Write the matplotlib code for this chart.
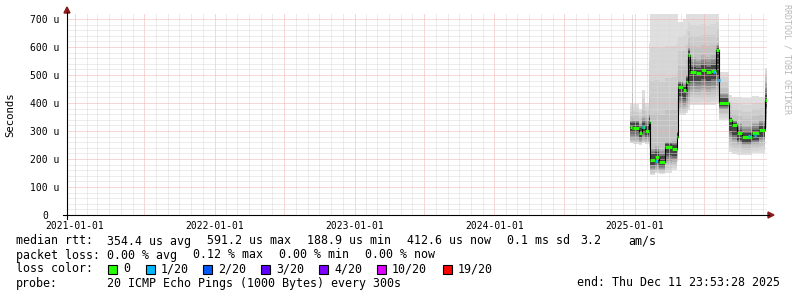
import numpy as np
import pandas as pd
import matplotlib
matplotlib.use("Agg")
import matplotlib.pyplot as plt
import matplotlib.dates as mdates
from matplotlib.ticker import FuncFormatter, MultipleLocator
from matplotlib.patches import Rectangle, Polygon
from matplotlib.lines import Line2D

# === plateaus (values in microseconds) ===
seg_start = ["2024-12-19", "2024-12-25", "2024-12-28", "2025-01-11", "2025-01-19",
             "2025-01-29", "2025-02-06", "2025-02-11", "2025-02-24", "2025-03-04",
             "2025-03-22", "2025-04-07", "2025-04-20", "2025-04-25", "2025-05-06",
             "2025-05-16", "2025-05-21", "2025-05-26", "2025-06-11", "2025-06-24",
             "2025-07-07", "2025-07-20", "2025-08-02", "2025-08-08", "2025-09-03",
             "2025-09-11", "2025-09-24", "2025-10-09", "2025-11-04", "2025-11-22",
             "2025-12-08"]
seg_end = "2025-12-11 23:53:28"

median_us = [314, 312, 312, 293, 314, 300, 332, 198, 207, 190,
             243, 236, 279, 457, 445, 475, 571, 511, 507, 518,
             511, 516, 589, 400, 339, 321, 292, 279, 293, 304, 411]
outer_lo = [257, 257, 255, 250, 257, 255, 240, 143, 150, 145,
            150, 160, 190, 357, 357, 365, 375, 393, 393, 393,
            393, 393, 400, 339, 225, 218, 214, 214, 221, 221, 310]
outer_hi = [400, 715, 395, 380, 446, 400, 614, 718, 718, 718,
            718, 718, 718, 690, 700, 718, 718, 718, 718, 718,
            718, 718, 718, 511, 428, 420, 420, 418, 425, 421, 525]
mid_lo = [268, 268, 268, 262, 268, 265, 265, 160, 165, 160,
          186, 190, 215, 386, 386, 395, 420, 440, 440, 445,
          440, 445, 450, 375, 270, 260, 255, 250, 255, 262, 340]
mid_hi = [339, 345, 340, 330, 350, 345, 360, 240, 245, 235,
          262, 265, 300, 480, 470, 500, 600, 564, 560, 570,
          565, 570, 610, 436, 350, 340, 330, 320, 330, 340, 480]
inner_lo = [295, 295, 295, 278, 295, 285, 300, 178, 185, 175,
            215, 210, 250, 425, 415, 440, 470, 480, 478, 485,
            480, 485, 500, 388, 300, 285, 268, 258, 268, 280, 385]
inner_hi = [328, 328, 328, 312, 330, 318, 345, 218, 225, 210,
            255, 250, 292, 468, 458, 490, 585, 530, 525, 535,
            530, 535, 600, 418, 345, 330, 305, 292, 305, 318, 430]

# pings with 1/20 loss
loss_dates = ["2025-01-21", "2025-02-24", "2025-07-25", "2025-08-07", "2025-10-24", "2025-11-09"]
loss_us = [314, 192, 511, 482, 282, 284]

loss_labels = ["0", "1/20", "2/20", "3/20", "4/20", "10/20", "19/20"]
loss_colors = ["#26ff00", "#00b8ff", "#0059ff", "#5e00ff", "#7e00ff", "#dd00ff", "#ff0000"]

W, H = 797, 297
MONO = "DejaVu Sans Mono"
plt.rcParams["font.family"] = MONO

fig = plt.figure(figsize=(W / 100, H / 100), dpi=100)
L, R, T, B = 67, 767, 14, 215
ax = fig.add_axes([L / W, 1 - B / H, (R - L) / W, (B - T) / H])

t0 = pd.Timestamp(seg_end) - pd.Timedelta(days=1826)
t1 = pd.Timestamp(seg_end)
ax.set_xlim(t0, t1)
ax.set_ylim(0, 718)

starts = pd.to_datetime(seg_start)
edges = list(starts) + [pd.Timestamp(seg_end)]

def steps(vals):
    xs, ys = [], []
    for i, v in enumerate(vals):
        xs += [edges[i], edges[i + 1]]
        ys += [v, v]
    return xs, np.array(ys, float)

xs, olo = steps(outer_lo)
_, ohi = steps(outer_hi)
_, mlo = steps(mid_lo)
_, mhi = steps(mid_hi)
_, ilo = steps(inner_lo)
_, ihi = steps(inner_hi)

# smoke: graded from light outer edge down to a dark core around the median
ax.fill_between(xs, olo, ohi, color="#dfdfdf", lw=0, zorder=1)
for f, g in zip([0.25, 0.5, 0.75], [0.84, 0.80, 0.76]):
    ax.fill_between(xs, olo + (mlo - olo) * f, ohi + (mhi - ohi) * f, color=str(g), lw=0, zorder=1)
for f, g in zip([0.0, 0.25, 0.5, 0.75], [0.70, 0.62, 0.54, 0.46]):
    ax.fill_between(xs, mlo + (ilo - mlo) * f, mhi + (ihi - mhi) * f, color=str(g), lw=0, zorder=1)
ax.fill_between(xs, ilo, ihi, color="#444444", lw=0, zorder=1)

# median: black steps + green plateaus
ax.step(edges, median_us + [median_us[-1]], where="post", color="black", lw=0.8, zorder=3)
ax.hlines(median_us, starts, edges[1:], color=loss_colors[0], lw=2.2, zorder=4)
ld = pd.to_datetime(loss_dates)
ax.hlines(loss_us, ld, ld + pd.Timedelta(days=5), color=loss_colors[1], lw=2.2, zorder=5)

# grid
ax.xaxis.set_major_locator(mdates.MonthLocator(bymonth=[1, 7]))
ax.xaxis.set_minor_locator(mdates.MonthLocator())
ax.xaxis.set_major_formatter(FuncFormatter(
    lambda v, p: mdates.num2date(v).strftime("%Y-%m-%d") if mdates.num2date(v).month == 1 else ""))
ax.yaxis.set_major_locator(MultipleLocator(100))
ax.yaxis.set_minor_locator(MultipleLocator(20))
ax.yaxis.set_major_formatter(FuncFormatter(lambda v, p: "0" if v == 0 else f"{v:.0f} u"))
ax.grid(which="minor", color="#dadada", ls=(0, (1, 1)), lw=0.72)
ax.grid(which="major", color="#f0b0b0", ls=(0, (1, 1)), lw=0.72)
ax.tick_params(which="both", length=0)
ax.tick_params(axis="x", pad=4, labelsize=7)
ax.tick_params(axis="y", pad=15.8, labelsize=7)
for lab in ax.get_yticklabels():
    lab.set_ha("center")
for s in ax.spines.values():
    s.set_visible(False)

def fx(x):
    return x / W

def fy(y):
    return 1 - y / H

# axes with arrows
fig.add_artist(Line2D([fx(63), fx(769)], [fy(215), fy(215)], color="black", lw=0.8))
fig.add_artist(Line2D([fx(67), fx(67)], [fy(219), fy(12)], color="black", lw=0.8))
fig.add_artist(Polygon([(fx(768), fy(212)), (fx(768), fy(218)), (fx(774), fy(215))],
                       closed=True, color="#8b1a1a", transform=fig.transFigure))
fig.add_artist(Polygon([(fx(64), fy(13)), (fx(70), fy(13)), (fx(67), fy(7))],
                       closed=True, color="#8b1a1a", transform=fig.transFigure))

fig.text(fx(10), fy(115), "Seconds", rotation=90, ha="center", va="center", fontsize=7.7)
fig.text(fx(787), fy(4), "RRDTOOL / TOBI OETIKER", rotation=270, ha="center", va="top",
         fontsize=6, color="#b8b8b8")

fs = 8.4

def put(x, y, s, **kw):
    fig.text(fx(x), fy(y), s, fontsize=fs, va="center", **kw)

put(16, 241, "median rtt:")
for x, s in zip([107, 207, 307, 407, 507, 580, 628],
                ["354.4 us avg", "591.2 us max", "188.9 us min", "412.6 us now",
                 "0.1 ms sd", "3.2", "am/s"]):
    put(x, 241, s)

put(16, 255, "packet loss:")
for x, s in zip([107, 193, 279, 365], ["0.00 % avg", "0.12 % max", "0.00 % min", "0.00 % now"]):
    put(x, 255, s)

put(16, 269, "loss color:")
box_x = [108, 146, 203, 261, 319, 377, 443]
for x, lab, c in zip(box_x, loss_labels, loss_colors):
    fig.add_artist(Rectangle((fx(x), fy(273.5)), 9 / W, 9 / H, facecolor=c,
                             edgecolor="black", lw=0.8, transform=fig.transFigure))
    put(x + 15, 269, lab)

put(16, 283, "probe:")
put(107, 283, "20 ICMP Echo Pings (1000 Bytes) every 300s")
put(780, 283, "end: Thu Dec 11 23:53:28 2025", ha="right")

fig.savefig("out.png", dpi=100)
